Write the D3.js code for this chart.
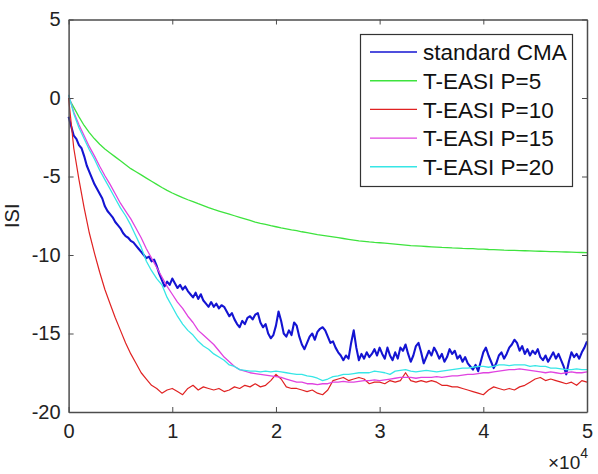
<!DOCTYPE html>
<html>
<head>
<meta charset="utf-8">
<script src="https://cdn.jsdelivr.net/npm/d3@7"></script>
<style>
  body { margin: 0; background: #fff; }
  svg { font-family: "Liberation Sans", Arial, sans-serif; }
</style>
</head>
<body>
<div id="chart"></div>
<script>
// Iteration axis (units of samples, shown x10^4)
const xTicks = [0, 10000, 20000, 30000, 40000, 50000];
const xTickLabels = ["0", "1", "2", "3", "4", "5"];
const yTicks = [5, 0, -5, -10, -15, -20];
const yTickLabels = ["5", "0", "-5", "-10", "-15", "-20"];

const seriesNames = ["standard CMA", "T-EASI P=5", "T-EASI P=10", "T-EASI P=15", "T-EASI P=20"];
const seriesColors = ["#1414d2", "#3ee33e", "#e02222", "#e043e0", "#36e6e6"];

// standard CMA, sampled every 250
const cmaStep = 250;
const cmaISI = [
  -1.2, -1.8, -2.4, -2.6, -3.0, -3.2, -3.7, -4.3, -4.7, -5.1,
  -5.5, -5.8, -6.1, -6.4, -6.9, -7.2, -7.4, -7.6, -7.9, -8.1,
  -8.3, -8.6, -8.8, -8.9, -9.1, -9.2, -9.4, -9.6, -9.8, -10.0,
  -10.2, -10.1, -10.4, -10.3, -10.7, -11.2, -11.6, -12.0, -11.7, -11.9,
  -11.5, -11.8, -12.1, -11.9, -12.2, -12.0, -12.3, -12.5, -12.7, -12.4,
  -12.8, -12.5, -12.9, -13.1, -13.3, -13.0, -13.3, -13.1, -13.4, -13.2,
  -13.3, -13.6, -13.9, -13.7, -14.1, -14.4, -14.6, -14.2, -14.4, -14.0,
  -13.9, -14.1, -13.8, -13.7, -14.3, -14.6, -14.4, -15.0, -15.3, -15.1,
  -14.5, -13.6, -14.2, -15.0, -15.2, -14.8, -15.1, -14.3, -14.5, -15.2,
  -15.7, -16.0, -15.6, -15.2, -15.0, -15.4, -14.9, -14.7, -14.6, -14.8,
  -15.2, -15.6, -15.5, -15.9, -16.2, -16.4, -16.7, -16.4, -16.6, -15.6,
  -14.8, -15.9, -16.7, -16.3, -16.6, -16.2, -16.5, -16.3, -16.0, -16.4,
  -15.9, -16.3, -16.6, -15.9, -16.4, -16.7, -16.2, -16.6, -15.9, -16.1,
  -15.7, -16.3, -16.8, -16.4, -15.8, -15.6, -16.2, -16.9, -16.5, -16.1,
  -16.4, -15.9, -16.2, -16.6, -16.3, -16.8, -16.5, -16.0, -16.3, -16.1,
  -16.6, -16.4, -16.8, -16.5, -16.9, -17.1, -17.3, -17.0, -17.4, -16.8,
  -16.2, -15.9, -16.4, -16.8, -17.2, -16.9, -16.4, -16.2, -16.6, -16.3,
  -15.9, -15.7, -15.4, -15.6, -16.1, -15.8, -16.3, -16.0, -16.4, -16.1,
  -16.3, -16.0, -16.5, -16.7, -16.4, -16.8, -16.5, -16.2, -16.6, -16.3,
  -16.7, -17.1, -17.6, -16.8, -16.2, -16.5, -16.3, -16.6, -16.2, -15.9,
  -15.5
];

// T-EASI curves, sampled every 500
const easiStep = 500;
const easiP5 = [
  0, -0.6, -1.2, -1.75, -2.2, -2.6, -2.95, -3.25, -3.5, -3.75,
  -4.0, -4.25, -4.5, -4.7, -4.9, -5.1, -5.3, -5.5, -5.7, -5.88,
  -6.05, -6.2, -6.35, -6.48, -6.6, -6.73, -6.85, -6.98, -7.1, -7.2,
  -7.3, -7.4, -7.5, -7.6, -7.7, -7.8, -7.9, -7.98, -8.05, -8.13,
  -8.2, -8.27, -8.33, -8.4, -8.45, -8.52, -8.58, -8.64, -8.7, -8.75,
  -8.8, -8.85, -8.9, -8.95, -9.0, -9.05, -9.1, -9.13, -9.17, -9.2,
  -9.22, -9.25, -9.28, -9.31, -9.34, -9.37, -9.4, -9.42, -9.44, -9.46,
  -9.48, -9.5, -9.52, -9.53, -9.55, -9.56, -9.58, -9.59, -9.6, -9.62,
  -9.63, -9.65, -9.66, -9.67, -9.69, -9.7, -9.71, -9.72, -9.73, -9.74,
  -9.75, -9.76, -9.77, -9.78, -9.79, -9.8, -9.81, -9.82, -9.83, -9.84,
  -9.85
];
const easiP10 = [
  0, -3.2, -5.2, -7.0, -8.6, -9.9, -11.1, -12.2, -13.1, -14.0,
  -14.8, -15.6, -16.3, -16.9, -17.5, -17.9, -18.3, -18.5, -18.8, -18.6,
  -18.5, -18.7, -18.9, -18.5, -18.3, -18.6, -18.4, -18.5, -18.6, -18.5,
  -18.7, -18.6, -18.4, -18.5, -18.3, -18.4, -18.2, -18.4, -18.3, -18.0,
  -17.6, -17.9, -18.4, -18.5, -18.5, -18.6, -18.7, -18.6, -18.8, -18.9,
  -18.6, -18.0, -17.9, -17.8, -18.0, -17.9, -17.8, -17.9, -18.2, -18.1,
  -18.1, -18.2, -18.0, -18.1, -18.0, -17.5, -18.0, -18.1, -18.0, -18.1,
  -18.0, -18.1, -18.3, -18.3, -18.4, -18.4, -18.5, -18.6, -18.7, -18.8,
  -18.9, -18.6, -18.4, -18.5, -18.6, -18.5, -18.6, -18.4, -18.3, -18.1,
  -17.9, -17.8, -18.0, -17.9, -18.0, -18.1, -18.2, -18.1, -18.3, -18.0,
  -18.1
];
const easiP15 = [
  0.2, -0.9, -1.7, -2.4, -3.1, -3.7, -4.35, -4.95, -5.5, -6.1,
  -6.7, -7.2, -7.7, -8.3, -8.9, -9.6, -10.2, -10.8, -11.4, -12.0,
  -12.5, -13.0, -13.4, -13.9, -14.3, -14.8, -15.1, -15.4, -15.7, -16.1,
  -16.5, -16.8, -17.1, -17.3, -17.4, -17.5, -17.55, -17.6, -17.65, -17.7,
  -17.75, -17.8, -17.9, -18.0, -18.1, -18.1, -18.2, -18.2, -18.25, -18.2,
  -18.2, -18.1, -18.1, -18.05, -18.1, -18.1, -18.05, -18.0, -18.0, -17.95,
  -18.0, -17.95, -17.9, -17.85, -17.8, -17.8, -17.8, -17.85, -17.8, -17.8,
  -17.8, -17.75, -17.8, -17.75, -17.7, -17.7, -17.65, -17.6, -17.6, -17.55,
  -17.5, -17.5, -17.45, -17.4, -17.35, -17.3, -17.3, -17.25, -17.3, -17.35,
  -17.4, -17.45, -17.5, -17.45, -17.5, -17.55, -17.5, -17.45, -17.5, -17.5,
  -17.45
];
const easiP20 = [
  0.2, -1.0, -1.9, -2.6, -3.3, -3.9, -4.6, -5.2, -5.8, -6.4,
  -7.0, -7.5, -8.1, -8.8, -9.5, -10.4, -11.0, -11.5, -11.9, -12.7,
  -13.3, -13.9, -14.4, -14.8, -15.1, -15.5, -15.8, -16.0, -16.3, -16.5,
  -16.7, -17.0, -17.1, -17.3, -17.35, -17.4, -17.4, -17.45, -17.4, -17.45,
  -17.4, -17.45, -17.5, -17.55, -17.6, -17.6, -17.7, -17.75, -17.85, -18.0,
  -17.9, -17.75, -17.7, -17.6, -17.6, -17.55, -17.5, -17.5, -17.5, -17.4,
  -17.45, -17.5, -17.6, -17.4, -17.35, -17.3, -17.4, -17.45, -17.4, -17.35,
  -17.4, -17.45, -17.4, -17.35, -17.3, -17.25, -17.2, -17.2, -17.15, -17.1,
  -17.1, -17.15, -17.1, -17.0, -17.0, -17.05, -17.0, -17.0, -17.0, -17.1,
  -17.05, -17.1, -17.1, -17.2, -17.2, -17.25, -17.3, -17.3, -17.25, -17.3,
  -17.3
];

const width = 598, height = 474;
const plot = { left: 68.6, right: 587, top: 19.5, bottom: 412 };

const x = d3.scaleLinear().domain([0, 50000]).range([plot.left, plot.right]);
const y = d3.scaleLinear().domain([-20, 5]).range([plot.bottom, plot.top]);

const svg = d3.select("#chart").append("svg")
    .attr("width", width)
    .attr("height", height);

const series = [
    { values: cmaISI, step: cmaStep, width: 2.1 },
    { values: easiP5, step: easiStep, width: 1.3 },
    { values: easiP10, step: easiStep, width: 1.2 },
    { values: easiP15, step: easiStep, width: 1.3 },
    { values: easiP20, step: easiStep, width: 1.3 }
];

const line = d3.line()
    .x(d => x(d[0]))
    .y(d => y(d[1]));

series.forEach((s, i) => {
    const pts = s.values.map((v, k) => [k * s.step, v]);
    svg.append("path")
        .datum(pts)
        .attr("fill", "none")
        .attr("stroke", seriesColors[i])
        .attr("stroke-width", s.width)
        .attr("stroke-linejoin", "round")
        .attr("d", line);
});

// Axes box with inward ticks on all sides
const axisColor = "#4d4d4d";
const tickLen = 5;

svg.append("g")
    .attr("transform", `translate(0,${plot.bottom})`)
    .call(d3.axisBottom(x).tickValues(xTicks).tickSizeInner(-tickLen).tickSizeOuter(0)
        .tickFormat((d, i) => xTickLabels[i]).tickPadding(12))
    .call(g => g.select(".domain").attr("stroke", axisColor).attr("stroke-width", 1.5))
    .call(g => g.selectAll(".tick line").attr("stroke", axisColor))
    .call(g => g.selectAll(".tick text").attr("font-size", 20).attr("fill", "#222")
        .attr("font-family", "Liberation Sans, Arial, sans-serif"));

svg.append("g")
    .attr("transform", `translate(0,${plot.top})`)
    .call(d3.axisTop(x).tickValues(xTicks).tickSizeInner(-tickLen).tickSizeOuter(0).tickFormat(""))
    .call(g => g.select(".domain").attr("stroke", axisColor).attr("stroke-width", 1.5))
    .call(g => g.selectAll(".tick line").attr("stroke", axisColor));

svg.append("g")
    .attr("transform", `translate(${plot.left},0)`)
    .call(d3.axisLeft(y).tickValues(yTicks).tickSizeInner(-tickLen).tickSizeOuter(0)
        .tickFormat((d, i) => yTickLabels[i]).tickPadding(8))
    .call(g => g.select(".domain").attr("stroke", axisColor).attr("stroke-width", 1.5))
    .call(g => g.selectAll(".tick line").attr("stroke", axisColor))
    .call(g => g.selectAll(".tick text").attr("font-size", 20).attr("fill", "#222")
        .attr("font-family", "Liberation Sans, Arial, sans-serif"));

svg.append("g")
    .attr("transform", `translate(${plot.right},0)`)
    .call(d3.axisRight(y).tickValues(yTicks).tickSizeInner(-tickLen).tickSizeOuter(0).tickFormat(""))
    .call(g => g.select(".domain").attr("stroke", axisColor).attr("stroke-width", 1.5))
    .call(g => g.selectAll(".tick line").attr("stroke", axisColor));

// Axis labels
svg.append("text")
    .attr("transform", `translate(19,${(plot.top + plot.bottom) / 2}) rotate(-90)`)
    .attr("text-anchor", "middle")
    .attr("font-size", 20)
    .attr("fill", "#222")
    .text("ISI");

const mult = svg.append("text")
    .attr("x", 548)
    .attr("y", 469)
    .attr("font-size", 19)
    .attr("fill", "#222");
mult.append("tspan").text("\u00d710");
mult.append("tspan").attr("dy", -11).attr("font-size", 14).text("4");

// Legend
const legend = svg.append("g");
legend.append("rect")
    .attr("x", 360.5).attr("y", 34.5)
    .attr("width", 212).attr("height", 152)
    .attr("fill", "#fff")
    .attr("stroke", "#333")
    .attr("stroke-width", 1.2);

seriesNames.forEach((name, i) => {
    const cy = 52 + i * 28.7;
    legend.append("line")
        .attr("x1", 370).attr("x2", 417)
        .attr("y1", cy).attr("y2", cy)
        .attr("stroke", seriesColors[i])
        .attr("stroke-width", 1.4);
    legend.append("text")
        .attr("x", 423)
        .attr("y", cy)
        .attr("dy", "0.36em")
        .attr("font-size", 22.5)
        .attr("fill", "#111")
        .text(name);
});
</script>
</body>
</html>
